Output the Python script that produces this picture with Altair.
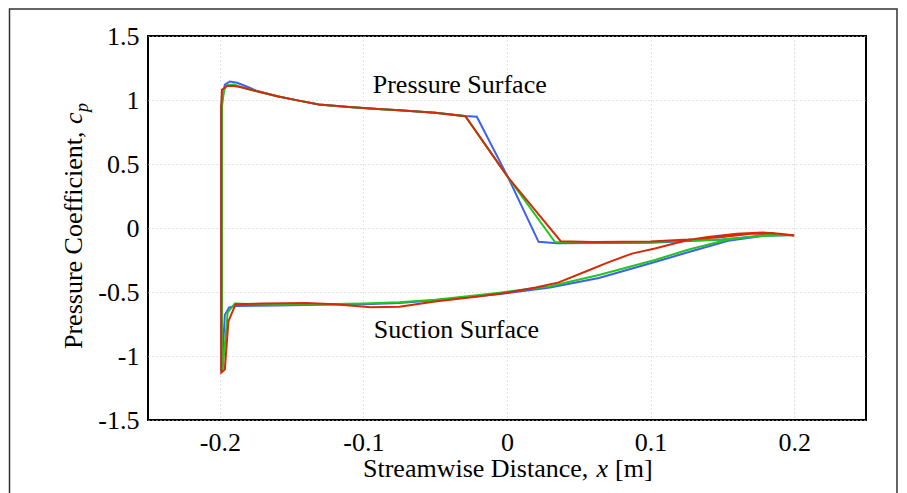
import altair as alt
import pandas as pd

# ---- data ----
blue_x = [0.200, 0.182, 0.154, 0.126, 0.103, 0.064, 0.030, -0.005, -0.050, -0.075, -0.100, -0.130,
          -0.160, -0.189, -0.1935, -0.1965, -0.1985, -0.1990, -0.1990, -0.1965, -0.1930, -0.1880,
          -0.1800, -0.1750, -0.160, -0.145, -0.131, -0.110, -0.090, -0.075, -0.050, -0.029, -0.021,
          0.001, 0.022, 0.035, 0.100, 0.150, 0.180, 0.200]
blue_cp = [-0.055, -0.055, -0.10, -0.19, -0.265, -0.39, -0.465, -0.515, -0.565, -0.585, -0.595, -0.60,
           -0.605, -0.61, -0.62, -0.68, -1.09, -1.12, 0.95, 1.12, 1.145, 1.135,
           1.10, 1.075, 1.03, 0.995, 0.965, 0.945, 0.93, 0.92, 0.90, 0.875, 0.869,
           0.39, -0.108, -0.12, -0.115, -0.09, -0.06, -0.055]

green_x = [0.200, 0.182, 0.154, 0.126, 0.103, 0.064, 0.030, -0.005, -0.050, -0.075, -0.100, -0.130,
           -0.160, -0.1895, -0.1945, -0.1980, -0.1985, -0.1985, -0.1970, -0.1950, -0.1900, -0.1850,
           -0.175, -0.160, -0.145, -0.131, -0.110, -0.090, -0.075, -0.050, -0.029, 0.001, 0.0334,
           0.060, 0.100, 0.150, 0.180, 0.200]
green_cp = [-0.055, -0.05, -0.09, -0.17, -0.25, -0.367, -0.455, -0.505, -0.56, -0.58, -0.59, -0.595,
            -0.60, -0.59, -0.66, -1.105, -1.12, 0.95, 1.08, 1.115, 1.12, 1.10,
            1.07, 1.03, 0.995, 0.965, 0.945, 0.93, 0.92, 0.90, 0.873, 0.392, -0.11,
            -0.115, -0.11, -0.09, -0.06, -0.055]

red_x = [0.200, 0.190, 0.178, 0.160, 0.140, 0.126, 0.103, 0.087, 0.070, 0.057, 0.036, 0.020, 0.000,
         -0.020, -0.050, -0.075, -0.095, -0.120, -0.140, -0.170, -0.189, -0.194, -0.1965, -0.199,
         -0.199, -0.1985, -0.195, -0.190, -0.185, -0.175, -0.160, -0.145, -0.131, -0.110, -0.090,
         -0.075, -0.050, -0.029, 0.001, 0.0374, 0.060, 0.100, 0.126, 0.150, 0.170, 0.185, 0.200]
red_cp = [-0.058, -0.045, -0.035, -0.045, -0.07, -0.094, -0.16, -0.20, -0.27, -0.33, -0.425, -0.465, -0.505,
          -0.535, -0.575, -0.615, -0.62, -0.595, -0.585, -0.59, -0.595, -0.73, -1.105, -1.13,
          0.95, 1.08, 1.11, 1.11, 1.10, 1.07, 1.03, 0.995, 0.965, 0.945, 0.93,
          0.92, 0.90, 0.873, 0.392, -0.103, -0.11, -0.105, -0.09, -0.07, -0.045, -0.04, -0.06]

series_names = ["blue", "green", "red"]
series_colors = ["#3f5ff2", "#1ec81e", "#d42a0a"]

x_ticks = [-0.2, -0.1, 0, 0.1, 0.2]
y_ticks = [-1.5, -1, -0.5, 0, 0.5, 1, 1.5]

label_text = ["Pressure Surface", "Suction Surface"]
label_x = [-0.0935, -0.0928]
label_y = [1.056, -0.858]

# ---- build table ----
rows = []
for name, xs, ys in [("blue", blue_x, blue_cp), ("green", green_x, green_cp), ("red", red_x, red_cp)]:
    for i, (a, b) in enumerate(zip(xs, ys)):
        rows.append({"series": name, "x": a, "cp": b, "order": i})
df = pd.DataFrame(rows)
labels_df = pd.DataFrame({"text": label_text, "x": label_x, "cp": label_y})
one = pd.DataFrame({"a": [0]})

FONT = "Liberation Serif"

xscale = alt.Scale(domain=[-0.25, 0.25], nice=False, zero=False)
yscale = alt.Scale(domain=[-1.5, 1.5], nice=False, zero=False)

lines = alt.Chart(df).mark_line(strokeWidth=2, clip=True).encode(
    x=alt.X("x:Q", scale=xscale,
            axis=alt.Axis(values=x_ticks, title="", labelExpr="toString(datum.value)")),
    y=alt.Y("cp:Q", scale=yscale,
            axis=alt.Axis(values=y_ticks, title="", labelExpr="toString(datum.value)")),
    color=alt.Color("series:N", scale=alt.Scale(domain=series_names, range=series_colors), legend=None),
    order="order:Q",
    detail="series:N",
)

labels = alt.Chart(labels_df).mark_text(
    align="left", baseline="alphabetic", font=FONT, fontSize=26, color="black"
).encode(x=alt.X("x:Q", scale=xscale), y=alt.Y("cp:Q", scale=yscale), text="text:N")

# outer frame (decoration)
frame = alt.Chart(one).mark_rect(fillOpacity=0, stroke="#333333", strokeWidth=1.5).encode(
    x=alt.value(-138.5), x2=alt.value(749), y=alt.value(-27), y2=alt.value(480)
)

def txt(s, x, y, size=26, angle=0, style="normal", align="left"):
    return alt.Chart(one).mark_text(
        text=s, align=align, baseline="alphabetic", font=FONT, fontSize=size,
        angle=angle, fontStyle=style, color="black"
    ).encode(x=alt.value(x), y=alt.value(y))

xt1 = txt("Streamwise Distance,", 215, 440.5)
xt2 = txt("x", 448.5, 440.5, style="italic")
xt3 = txt("[m]", 467, 440.5)

yt1 = txt("Pressure Coefficient,", -66, 313, angle=270)
yt2 = txt("c", -66, 88, angle=270, style="italic")
yt3 = txt("p", -60, 76, size=18, angle=270, style="italic")

chart = alt.layer(frame, lines, labels, xt1, xt2, xt3, yt1, yt2, yt3).properties(
    width=718, height=384,
    autosize=alt.AutoSizeParams(type="none"),
    padding={"left": 140, "top": 28, "right": 33, "bottom": 90},
).configure_view(
    stroke="black", strokeWidth=2
).configure_axis(
    domain=False, ticks=False, grid=True, gridColor="#c8c8c8", gridDash=[1, 3], gridWidth=1,
    labelFont=FONT, labelFontSize=26, labelColor="black", labelPadding=9,
)

chart.save("out.html", embed_options={"renderer": "svg", "actions": False})
